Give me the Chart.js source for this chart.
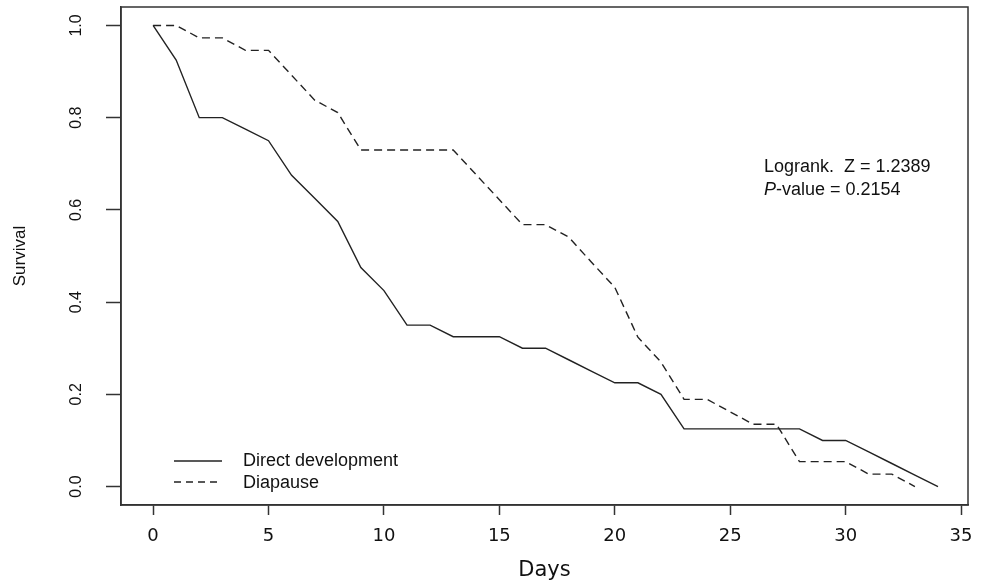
<!DOCTYPE html>
<html><head><meta charset="utf-8">
<script src="https://cdn.jsdelivr.net/npm/chart.js@4/dist/chart.umd.min.js"></script>
<style>html,body{margin:0;padding:0;background:#fff}canvas{display:block}</style>
</head><body>
<canvas id="c" width="981" height="586"></canvas>
<script>
// ---- data ----
const directDays = [0,1,2,3,4,5,6,7,8,9,10,11,12,13,14,15,16,17,18,19,20,21,22,23,24,25,26,27,28,29,30,31,32,33,34];
const directSurvival = [1.0,0.925,0.8,0.8,0.775,0.75,0.675,0.625,0.575,0.475,0.425,0.35,0.35,0.325,0.325,0.325,0.3,0.3,0.275,0.25,0.225,0.225,0.2,0.125,0.125,0.125,0.125,0.125,0.125,0.1,0.1,0.075,0.05,0.025,0.0];
const diapauseDays = [0,1,2,3,4,5,6,7,8,9,10,11,12,13,14,15,16,17,18,19,20,21,22,23,24,25,26,27,28,29,30,31,32,33];
const diapauseSurvival = [1.0,1.0,0.973,0.973,0.946,0.946,0.892,0.838,0.811,0.730,0.730,0.730,0.730,0.730,0.676,0.622,0.568,0.568,0.541,0.486,0.432,0.324,0.270,0.189,0.189,0.162,0.135,0.135,0.054,0.054,0.054,0.027,0.027,0.0];
const seriesLabels = ["Direct development", "Diapause"];
const xTickValues = [0,5,10,15,20,25,30,35];
const yTickValues = [0.0,0.2,0.4,0.6,0.8,1.0];
const xTitle = "Days";
const yTitle = "Survival";
const statLine1 = "Logrank.  Z = 1.2389";
const statP = "P";
const statLine2 = "-value = 0.2154";

const ink = '#222';
const toPts = (xs, ys) => xs.map((x, i) => ({x: x, y: ys[i]}));

const framePlugin = {
  id: 'frame',
  afterDraw(chart) {
    const {ctx, chartArea: a} = chart;
    ctx.save();
    ctx.strokeStyle = '#333';
    ctx.lineWidth = 1.5;
    ctx.strokeRect(a.left, a.top, a.right - a.left, a.bottom - a.top);
    // legend
    const ds = chart.data.datasets;
    const rows = [{y: 461, ty: 466}, {y: 482, ty: 488}];
    ctx.font = '18px "Liberation Sans", Arial, sans-serif';
    ctx.fillStyle = '#111';
    ctx.textBaseline = 'alphabetic';
    ds.forEach((d, i) => {
      ctx.beginPath();
      ctx.strokeStyle = d.borderColor;
      ctx.lineWidth = d.borderWidth;
      ctx.setLineDash(i === 1 ? [7, 5] : []);
      ctx.moveTo(174, rows[i].y);
      ctx.lineTo(222, rows[i].y);
      ctx.stroke();
      ctx.setLineDash([]);
      ctx.fillText(d.label, 243, rows[i].ty);
    });
    // annotation
    ctx.fillText(statLine1, 764, 172);
    ctx.font = 'italic 18px "Liberation Sans", Arial, sans-serif';
    ctx.fillText(statP, 764, 195);
    const pw = ctx.measureText(statP).width;
    ctx.font = '18px "Liberation Sans", Arial, sans-serif';
    ctx.fillText(statLine2, 764 + pw, 195);
    ctx.restore();
  }
};

new Chart(document.getElementById('c'), {
  type: 'line',
  data: {
    datasets: [
      {label: seriesLabels[0], data: toPts(directDays, directSurvival), borderColor: ink, borderWidth: 1.4, pointRadius: 0, tension: 0, fill: false},
      {label: seriesLabels[1], data: toPts(diapauseDays, diapauseSurvival), borderColor: ink, borderWidth: 1.4, borderDash: [8, 5], pointRadius: 0, tension: 0, fill: false}
    ]
  },
  options: {
    responsive: false,
    animation: false,
    events: [],
    layout: {padding: {top: 7, right: 13, bottom: 0, left: 0}},
    plugins: {legend: {display: false}, tooltip: {enabled: false}, title: {display: false}},
    scales: {
      x: {
        type: 'linear', position: 'bottom', min: -1.39, max: 35.3,
        afterBuildTicks: s => { s.ticks = xTickValues.map(v => ({value: v})); },
        afterFit: s => { s.height = 81; s.paddingLeft = 0; s.paddingRight = 0; },
        ticks: {font: {family: '"DejaVu Sans"', size: 18}, color: '#111', padding: 11, maxRotation: 0, minRotation: 0, autoSkip: false, callback: v => String(v)},
        grid: {display: true, drawOnChartArea: false, drawTicks: true, tickLength: 10, color: '#333', tickWidth: 1.5},
        border: {display: true, color: '#333', width: 1.5},
        title: {display: true, text: xTitle, font: {family: '"DejaVu Sans"', size: 21}, color: '#111', padding: {top: 0, bottom: 3}}
      },
      y: {
        type: 'linear', position: 'left', min: -0.04, max: 1.04,
        afterBuildTicks: s => { s.ticks = yTickValues.map(v => ({value: v})); },
        afterFit: s => { s.width = 121; s.paddingTop = 0; s.paddingBottom = 0; },
        ticks: {font: {family: '"Liberation Sans"', size: 16}, color: '#111', padding: 18, minRotation: 90, maxRotation: 90, crossAlign: 'center', autoSkip: false, callback: v => v.toFixed(1)},
        grid: {display: true, drawOnChartArea: false, drawTicks: true, tickLength: 15, color: '#333', tickWidth: 1.5},
        border: {display: true, color: '#333', width: 1.5},
        title: {display: true, text: yTitle, font: {family: '"Liberation Sans"', size: 17}, color: '#111', padding: {top: 10, bottom: 0}}
      }
    }
  },
  plugins: [framePlugin]
});
</script>
</body></html>
